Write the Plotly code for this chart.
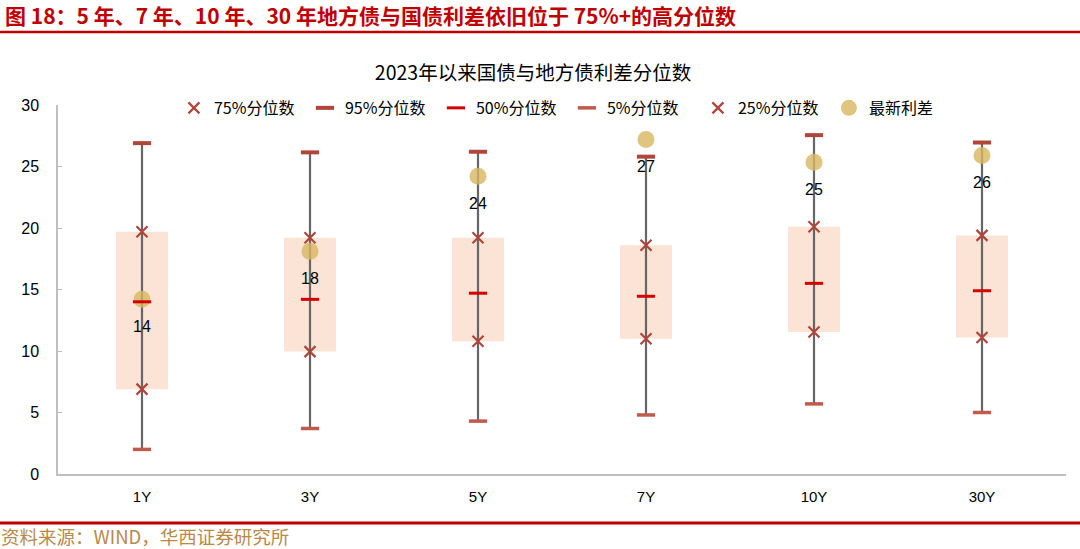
import plotly.graph_objects as go

categories = ["1Y", "3Y", "5Y", "7Y", "10Y", "30Y"]
p95 = [26.9, 26.15, 26.2, 25.8, 27.55, 26.95]
p75 = [19.7, 19.2, 19.2, 18.6, 20.1, 19.4]
p50 = [14.0, 14.2, 14.7, 14.45, 15.5, 14.9]
p25 = [6.9, 9.95, 10.8, 11.0, 11.55, 11.1]
p5 = [2.0, 3.7, 4.3, 4.8, 5.7, 5.0]
latest = [14.2, 18.1, 24.2, 27.2, 25.35, 25.9]
yticks = [0, 5, 10, 15, 20, 25, 30]

FONT = "Liberation Sans, Arial, Noto Sans CJK SC, sans-serif"
CJK = "Noto Sans CJK SC, Liberation Sans, sans-serif"
MARK = "#b0463a"

fig = go.Figure()

# box 25%-75%
fig.add_trace(go.Bar(
    x=categories, y=[a - b for a, b in zip(p75, p25)], base=p25,
    marker=dict(color="#fbe3d6", line=dict(width=0)),
    width=0.31, showlegend=False, hoverinfo="skip"))

# whiskers 5%-95%
wx, wy = [], []
for c, lo, hi in zip(categories, p5, p95):
    wx += [c, c, None]
    wy += [lo, hi, None]
fig.add_trace(go.Scatter(x=wx, y=wy, mode="lines",
                         line=dict(color="#666666", width=2.2),
                         showlegend=False, hoverinfo="skip"))

fig.add_trace(go.Scatter(x=categories, y=latest, mode="markers", name="最新利差", legendrank=1006,
                         marker=dict(symbol="circle", size=17, color="rgba(216,182,96,0.8)",
                                     line=dict(width=0))))
fig.add_trace(go.Scatter(x=categories, y=p75, mode="markers", name="75%分位数", legendrank=1000,
                         marker=dict(symbol="x-thin", size=11, color=MARK,
                                     line=dict(color=MARK, width=2.2))))
fig.add_trace(go.Scatter(x=categories, y=p95, mode="markers", name="95%分位数", legendrank=1001,
                         marker=dict(symbol="line-ew", size=13, color=MARK,
                                     line=dict(color=MARK, width=4))))
fig.add_trace(go.Scatter(x=categories, y=p50, mode="markers", name="50%分位数", legendrank=1002,
                         marker=dict(symbol="line-ew", size=13, color="#d40000",
                                     line=dict(color="#d40000", width=3))))
fig.add_trace(go.Scatter(x=categories, y=p5, mode="markers", name="5%分位数", legendrank=1003,
                         marker=dict(symbol="line-ew", size=13, color="#c05a4c",
                                     line=dict(color="#c05a4c", width=3.5))))
fig.add_trace(go.Scatter(x=categories, y=p25, mode="markers", name="25%分位数", legendrank=1004,
                         marker=dict(symbol="x-thin", size=11, color=MARK,
                                     line=dict(color=MARK, width=2.2))))

for c, v in zip(categories, latest):
    fig.add_annotation(x=c, y=v, text=str(round(v)), showarrow=False,
                       yshift=-27, font=dict(family=FONT, size=16, color="#000000"))

fig.update_layout(
    width=1080, height=549,
    paper_bgcolor="white", plot_bgcolor="white",
    margin=dict(l=58, r=14, t=105, b=75),
    font=dict(family=FONT, size=15, color="#000000"),
    title=dict(text="2023年以来国债与地方债利差分位数", x=533 / 1080, xanchor="center",
               y=1 - 73 / 549, yanchor="middle", xref="container", yref="container",
               font=dict(family=CJK, size=19.5, color="#000000")),
    showlegend=True,
    legend=dict(orientation="h", x=0.115, xanchor="left", y=0.992, yanchor="middle",
                entrywidth=86, entrywidthmode="pixels", itemwidth=30,
                font=dict(family=CJK, size=16, color="#000000"),
                bgcolor="rgba(0,0,0,0)", tracegroupgap=0),
    bargap=0.69,
    xaxis=dict(type="category", categoryorder="array", categoryarray=categories,
               showline=True, linecolor="#bfbfbf", linewidth=1.5, ticks="",
               showgrid=False, tickfont=dict(family=FONT, size=15), ticklabelstandoff=8),
    yaxis=dict(range=[0, 30], tickvals=yticks, showline=True, linecolor="#bfbfbf",
               linewidth=1.5, ticks="inside", ticklen=4, tickcolor="#bfbfbf",
               showgrid=False, zeroline=False, tickfont=dict(family=FONT, size=16),
               ticklabelstandoff=14),
)

# header / footer decorations
fig.add_annotation(xref="paper", yref="paper", x=-54 / 1008, y=1 + (105 - 15) / 369,
                   xanchor="left", yanchor="middle", showarrow=False, borderpad=0,
                   text="<b>图 18：5 年、7 年、10 年、30 年地方债与国债利差依旧位于 75%+的高分位数</b>",
                   font=dict(family=CJK, size=21, color="#c00000"))
fig.add_shape(type="line", xref="paper", yref="paper", x0=-58 / 1008, x1=1 + 14 / 1008,
              y0=1 + (105 - 32) / 369, y1=1 + (105 - 32) / 369,
              line=dict(color="#c00000", width=2.5))
fig.add_shape(type="line", xref="paper", yref="paper", x0=-58 / 1008, x1=1 + 14 / 1008,
              y0=-(523 - 474) / 369, y1=-(523 - 474) / 369,
              line=dict(color="#c00000", width=3))
fig.add_annotation(xref="paper", yref="paper", x=-58 / 1008, y=-(536 - 474) / 369,
                   xanchor="left", yanchor="middle", showarrow=False, borderpad=0,
                   text="资料来源：WIND，华西证券研究所",
                   font=dict(family=CJK, size=18.5, color="#b8894a"))

fig.write_html("out.html", config={"displayModeBar": False},
               post_script="document.body.style.margin='0';")
